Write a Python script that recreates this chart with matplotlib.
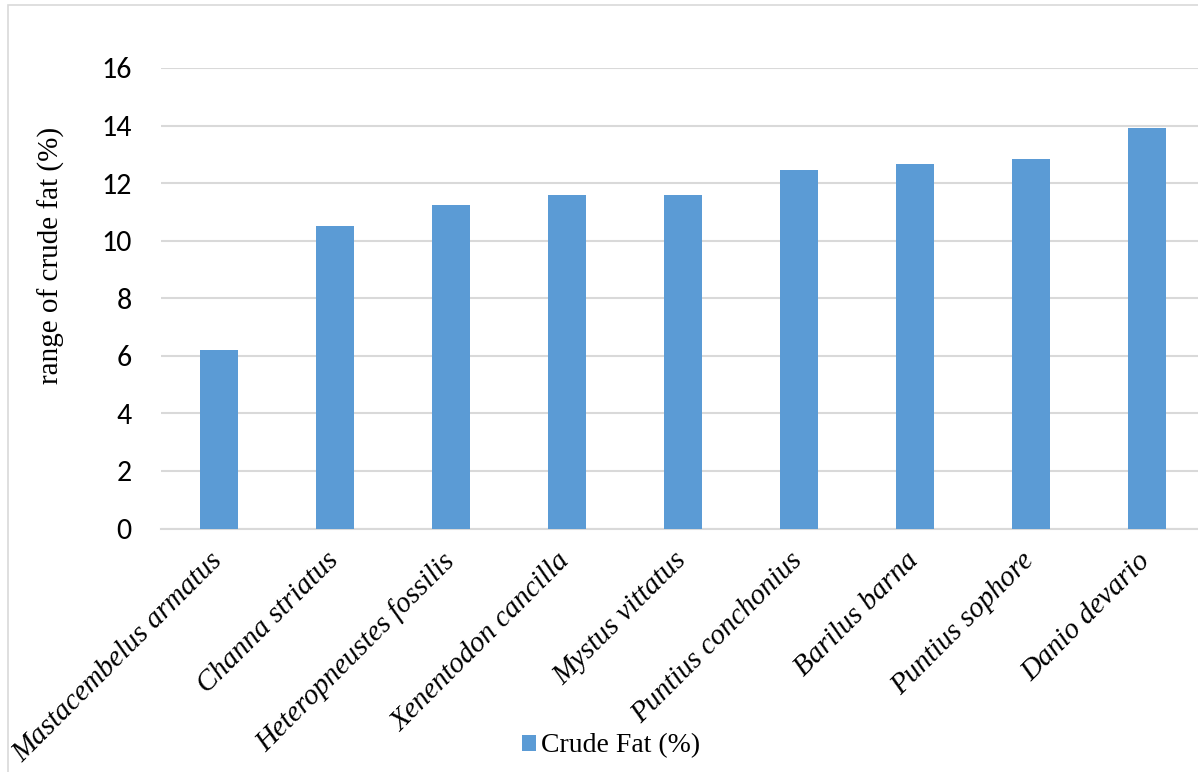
import numpy as np
import matplotlib.pyplot as plt
from matplotlib import font_manager as fm
from matplotlib.patches import Rectangle
from matplotlib.transforms import ScaledTranslation

species = ["Mastacembelus armatus", "Channa striatus", "Heteropneustes fossilis",
           "Xenentodon cancilla", "Mystus vittatus", "Puntius conchonius",
           "Barilus barna", "Puntius sophore", "Danio devario"]
crude_fat = [6.2, 10.5, 11.25, 11.6, 11.6, 12.45, 12.65, 12.85, 13.9]
y_ticks = [0, 2, 4, 6, 8, 10, 12, 14, 16]

# Times-like serif for the labels, Calibri-like sans for the numbers
serif_reg = fm.findfont(fm.FontProperties(family="Liberation Serif"))
serif_it = fm.findfont(fm.FontProperties(family="Liberation Serif", style="italic"))
sans_reg = fm.findfont(fm.FontProperties(family="Carlito"))

W, H = 1198, 772
fig = plt.figure(figsize=(W / 100, H / 100), dpi=100)

# light frame around the whole chart
fig.patches.append(Rectangle((8 / W, -0.1), 1.2, 1 - 5 / H + 0.1, transform=fig.transFigure,
                             fill=False, edgecolor="#d9d9d9", linewidth=1.2))

ax = fig.add_axes([161 / W, (H - 528.5) / H, 1044 / W, 460.5 / H])
x = np.arange(len(species))
ax.bar(x, crude_fat, width=0.32, color="#5b9bd5", zorder=3, label="Crude Fat (%)")

ax.set_xlim(-0.5, len(species) - 0.5)
ax.set_ylim(0, 16)
ax.set_yticks(y_ticks)
ax.set_yticklabels([str(t) for t in y_ticks],
                   fontproperties=fm.FontProperties(fname=sans_reg, size=21.5))
ax.tick_params(axis="y", length=0, pad=21)
ax.tick_params(axis="x", length=0, pad=8)
ax.grid(axis="y", color="#d9d9d9", linewidth=1.5, zorder=0)
for s in ["top", "right", "left"]:
    ax.spines[s].set_visible(False)
ax.spines["bottom"].set_color("#d9d9d9")
ax.spines["bottom"].set_linewidth(1.5)

ax.set_xticks(x)
ax.set_xticklabels(species, rotation=45, ha="right", va="top", rotation_mode="anchor",
                   fontproperties=fm.FontProperties(fname=serif_it, size=21))
# nudge the slanted names a little left and down
shift = ScaledTranslation(-10 / 100, -8 / 100, fig.dpi_scale_trans)
for lab in ax.get_xticklabels():
    lab.set_transform(lab.get_transform() + shift)

ax.set_ylabel("range of crude fat (%)",
              fontproperties=fm.FontProperties(fname=serif_reg, size=21))
ax.yaxis.set_label_coords(-96 / 1044, 0.592)

fig.legend(loc="center", bbox_to_anchor=(611 / W, 1 - 746 / H), frameon=False,
           prop=fm.FontProperties(fname=serif_reg, size=20),
           handlelength=0.5, handleheight=0.5, handletextpad=0.2)

fig.savefig("out.png", dpi=100)
